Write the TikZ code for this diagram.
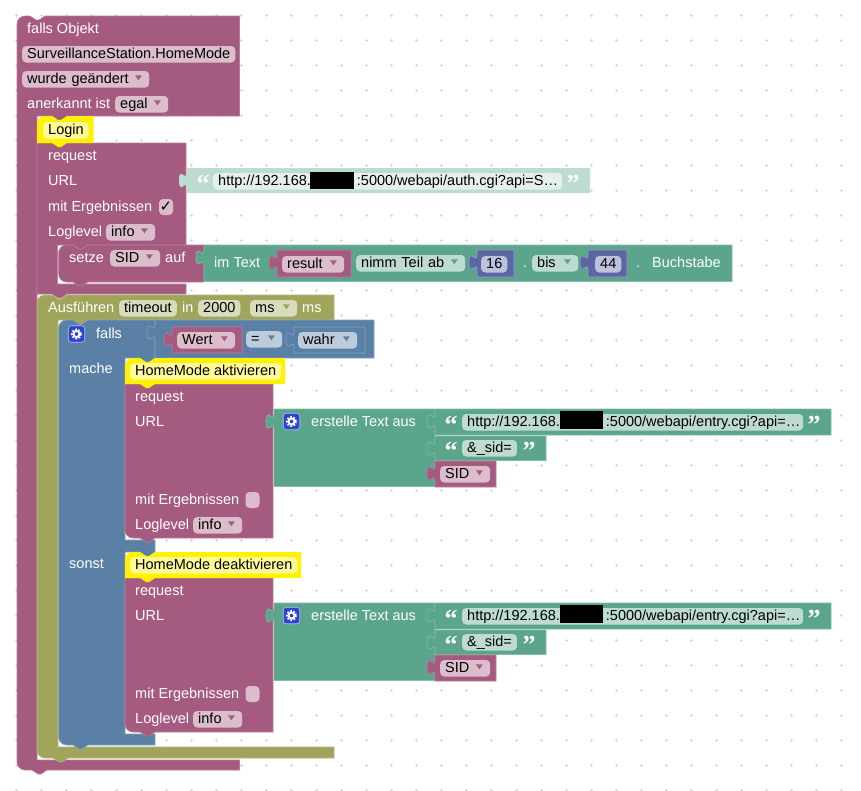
\documentclass[tikz,border=0pt]{standalone}
\usepackage{fontspec}
\setmainfont{Liberation Sans}
\newfontfamily\symfont{DejaVu Sans}
\newfontfamily\quotefont{Liberation Serif}
\usepackage{tikz}
\definecolor{blockmauve}{HTML}{A55B80}
\definecolor{blockgreen}{HTML}{5BA58C}
\definecolor{blockblue}{HTML}{5B80A5}
\definecolor{blockolive}{HTML}{A0A55B}
\definecolor{blockindigo}{HTML}{5B67A5}
\definecolor{blockshadow}{HTML}{BEDBD1}
\definecolor{gearblue}{HTML}{2F45CF}
\definecolor{griddot}{HTML}{D8D8D8}
\newcommand{\blockfont}{\fontsize{14.5pt}{17pt}\selectfont}
\newcommand{\notch}{-- ++(6,4) -- ++(3,0) -- ++(6,-4)}
\newcommand{\nub}{-- ++(-6,4) -- ++(-3,0) -- ++(-6,-4)}
\newcommand{\tabup}{.. controls +(0,-10) and +(0,15.5) .. ++(-8,-7.5) .. controls +(0,-15.5) and +(0,10) .. ++(8,-7.5)}
\newcommand{\cornertop}{arc[start angle=180,end angle=270,radius=8]}
\newcommand{\cornerbot}{arc[start angle=90,end angle=180,radius=8]}
\newcommand{\ddarrow}[2]{\fill[#2] ([shift={(-14.5,-4)}]#1.east) -- ++(7,0) -- ++(-3.5,5) -- cycle;}
\newcommand{\gearteeth}[1]{%
  \draw[white,line width=1.9,dash pattern=on 1.7pt off 1.5pt] (#1.center) circle (4.5);
  \draw[white,line width=1.8] (#1.center) circle (3);}
\tikzset{
  mauveblock/.style={fill=blockmauve,draw=blockmauve!80!white,line width=.6},
  greenblock/.style={fill=blockgreen,draw=blockgreen!75!white,line width=.6},
  blueblock/.style={fill=blockblue,draw=blockblue!75!white,line width=.6},
  oliveblock/.style={fill=blockolive,draw=blockolive!80!white,line width=.6},
  numblock/.style={fill=blockindigo,draw=blockindigo!65!white,line width=.6},
  shadowblock/.style={fill=blockshadow},
  commentblock/.style={fill=yellow},
  lbl/.style={anchor=base west,inner sep=0pt,text=white,font=\blockfont},
  field/.style={anchor=base west,inner xsep=5pt,inner ysep=0pt,text height=12pt,text depth=4.5pt,
    fill=white,fill opacity=.6,text opacity=1,text=black,rounded corners=4,font=\blockfont},
  drop/.style={field,text width=#1,align=left},
  checkbox/.style={fill=white,fill opacity=.6,text opacity=1,text=black,rounded corners=4,
    inner sep=0pt,minimum width=14,minimum height=16,font=\symfont\fontsize{15pt}{16pt}\selectfont},
  qmark/.style={anchor=base,inner sep=0pt,text=white,font=\quotefont\bfseries\fontsize{26pt}{26pt}\selectfont},
  gearbox/.style={fill=gearblue,draw=white!65!gearblue,line width=.6,rounded corners=3,
    minimum size=16.5,inner sep=0pt},
}
\begin{document}
\begin{tikzpicture}[x=1pt,y=-1pt]
  \useasboundingbox (0,0) rectangle (861,790);
  \fill[white] (0,0) rectangle (861,790);

  % Workspace grid
  \foreach \gx in {16,41,...,841}
    \foreach \gy in {15,40,...,790}
      \draw[griddot,line width=.9] (\gx-1.5,\gy) -- (\gx+1.5,\gy) (\gx,\gy-1.5) -- (\gx,\gy+1.5);

  % Trigger block
  \fill[mauveblock] (17,24) \cornertop -- (30,16) \notch -- (239.5,16) -- (239.5,116) -- (67,116) \nub
    -- (37,116) -- (37,760) -- (239.5,760) -- (239.5,770) -- (47,770) \nub -- (25,770) \cornerbot -- cycle;
  \node[lbl] (fallsobj) at (27,33) {falls Objekt};
  \node[field] (objid) at (22,58) {SurveillanceStation.HomeMode};
  \node[drop=117pt] (changed) at (22,83) {wurde geändert};
  \ddarrow{changed}{blockmauve}
  \node[lbl] (acklabel) at (27,108) {anerkannt ist};
  \node[drop=43pt] (ackval) at (115,108) {egal};
  \ddarrow{ackval}{blockmauve}

  % Login request
  \fill[mauveblock] (37,143) -- (186,143) -- (186,245) -- (88,245) \nub -- (57.6,245) -- (57.6,284)
    -- (186,284) -- (186,294) -- (67,294) \nub -- (37,294) -- cycle;
  \fill[commentblock] (37,124) \cornertop -- (52,116) \notch -- (93.5,116) -- (93.5,143) -- (67,143) \nub -- (37,143) -- cycle;
  \node[field] (login) at (43,134) {Login};
  \node[lbl] (req1) at (48,160) {request};
  \node[lbl] (url1) at (48,185) {URL};
  \node[lbl] (res1) at (48,211) {mit Ergebnissen};
  \node[checkbox] (chk1) at (166,207) {✓};
  \node[lbl] (log1) at (48,236) {Loglevel};
  \node[drop=39pt] (info1) at (106,236) {info};
  \ddarrow{info1}{blockmauve}

  % Login URL
  \fill[shadowblock] (187,168) -- (590,168) -- (590,193) -- (187,193) -- (187,188) \tabup -- cycle;
  \node[qmark] (open1) at (203,192) {“};
  \node[field,text width=339pt,align=left] (urltxt) at (213,185) {\mbox{http://192.168.\hspace{46pt}:5000/webapi/auth.cgi?api=S…}};
  \fill[black] (310,172) rectangle (354,189);
  \node[qmark] (close1) at (573,192) {”};

  % Set variable SID
  \fill[mauveblock] (58.6,253) \cornertop -- (73,245) \notch -- (204,245) -- (204,282) -- (88,282) \nub -- (66.6,282) \cornerbot -- cycle;
  \node[lbl] (setze) at (69,262) {setze};
  \node[drop=40pt] (sidvar) at (110,262) {SID};
  \ddarrow{sidvar}{blockmauve}
  \node[lbl] (auf) at (165,262) {auf};

  % Substring
  \fill[greenblock] (204,245) -- (732,245) -- (732,281.5) -- (204,281.5) -- (204,265) \tabup -- cycle;
  \node[lbl] (imtext) at (214,267) {im Text};
  \fill[mauveblock] (277,250) -- (351,250) -- (351,277) -- (277,277) -- (277,270) \tabup -- cycle;
  \node[drop=52pt] (result) at (282,268) {result};
  \ddarrow{result}{blockmauve}
  \node[drop=99pt] (teil) at (356,267) {nimm Teil ab};
  \ddarrow{teil}{blockgreen}
  \fill[numblock] (477,250) -- (514,250) -- (514,277) -- (477,277) -- (477,270) \tabup -- cycle;
  \node[field] (from) at (481,268) {16};
  \node[lbl] (dot1) at (523,267) {.};
  \node[drop=36pt] (bis) at (532,267) {bis};
  \ddarrow{bis}{blockgreen}
  \fill[numblock] (588,250) -- (627,250) -- (627,277) -- (588,277) -- (588,270) \tabup -- cycle;
  \node[field] (to) at (595,268) {44};
  \node[lbl] (dot2) at (636,267) {.};
  \node[lbl] (buchstabe) at (652,267) {Buchstabe};

  % Timeout block
  \fill[oliveblock] (37,303) \cornertop -- (52,295) \notch -- (334,295) -- (334,320) -- (88,320) \nub
    -- (58,320) -- (58,747) -- (334,747) -- (334,758) -- (68,758) \nub -- (45,758) \cornerbot -- cycle;
  \node[lbl] (ausf) at (48,312) {Ausführen};
  \node[field] (timeout) at (119,312) {timeout};
  \node[lbl] (in) at (182,312) {in};
  \node[field] (delay) at (198,312) {2000};
  \node[drop=37pt] (unit) at (250,312) {ms};
  \ddarrow{unit}{blockolive}
  \node[lbl] (msunit) at (302,312) {ms};

  % If else block
  \fill[blueblock] (58.6,328) \cornertop -- (73,320) \notch -- (155,320) -- (155,358) \nub -- (125,358) -- (125,540)
    -- (155,540) -- (155,552) \nub -- (125,552) -- (125,734) -- (155,734) -- (155,745) -- (88,745) \nub -- (66.6,745) \cornerbot -- cycle;
  \node[gearbox] (gear0) at (76.5,334) {};
  \gearteeth{gear0}
  \node[lbl] (falls) at (96,338) {falls};
  \node[lbl] (mache) at (69,373) {mache};
  \node[lbl] (sonst) at (69,568) {sonst};

  % Condition
  \fill[blueblock] (155,320) -- (374,320) -- (374,358) -- (155,358) -- (155,340) \tabup -- cycle;
  \fill[mauveblock] (172,327) -- (242,327) -- (242,353) -- (172,353) -- (172,347) \tabup -- cycle;
  \node[drop=48pt] (wert) at (177,344) {Wert};
  \ddarrow{wert}{blockmauve}
  \node[drop=26pt] (equals) at (246,343) {=};
  \ddarrow{equals}{blockblue}
  \fill[blueblock] (294,327) -- (365,327) -- (365,353) -- (294,353) -- (294,347) \tabup -- cycle;
  \node[drop=49pt] (wahr) at (298,344) {wahr};
  \ddarrow{wahr}{blockblue}

  % Both branches
  \foreach \dy/\title/\cright in {0/HomeMode aktivieren/285,194/HomeMode deaktivieren/301} {
    \begin{scope}[shift={(0,\dy)}]
      \fill[mauveblock] (125,384) -- (273,384) -- (273,538) -- (155,538) \nub -- (133,538) \cornerbot -- cycle;
      \fill[commentblock] (125,366) \cornertop -- (140,358) \notch -- (\cright,358) -- (\cright,384) -- (155,384) \nub -- (125,384) -- cycle;
      \node[field] (title\dy) at (130,375) {\title};
      \node[lbl] (req\dy) at (135,401) {request};
      \node[lbl] (url\dy) at (135,426) {URL};
      \node[lbl] (res\dy) at (135,504) {mit Ergebnissen};
      \node[checkbox] (chk\dy) at (252.5,500) {};
      \node[lbl] (log\dy) at (135,529) {Loglevel};
      \node[drop=39pt] (info\dy) at (193,529) {info};
      \ddarrow{info\dy}{blockmauve}

      % Text join
      \fill[greenblock] (274,409) -- (435,409) -- (435,486.5) -- (274,486.5) -- (274,429) \tabup -- cycle;
      \node[gearbox] (gear\dy) at (291.5,421.5) {};
      \gearteeth{gear\dy}
      \node[lbl] (join\dy) at (311,426) {erstelle Text aus};
      \fill[greenblock] (435,409) -- (831,409) -- (831,435) -- (435,435) -- (435,429) \tabup -- cycle;
      \node[qmark] (opena\dy) at (451,433) {“};
      \node[field,text width=331pt,align=left] (entry\dy) at (462,426) {\mbox{http://192.168.\hspace{46pt}:5000/webapi/entry.cgi?api=…}};
      \fill[black] (560,411) rectangle (603,429);
      \node[qmark] (closea\dy) at (814,433) {”};
      \fill[greenblock] (435,436) -- (546,436) -- (546,460.5) -- (435,460.5) -- (435,456) \tabup -- cycle;
      \node[qmark] (openb\dy) at (451,459) {“};
      \node[field] (sidtxt\dy) at (462,452) {\&\_sid=};
      \node[qmark] (closeb\dy) at (529,459) {”};
      \fill[mauveblock] (435,461) -- (496,461) -- (496,487) -- (435,487) -- (435,481) \tabup -- cycle;
      \node[drop=40pt] (sid\dy) at (440,478) {SID};
      \ddarrow{sid\dy}{blockmauve}
    \end{scope}
  }
\end{tikzpicture}
\end{document}
